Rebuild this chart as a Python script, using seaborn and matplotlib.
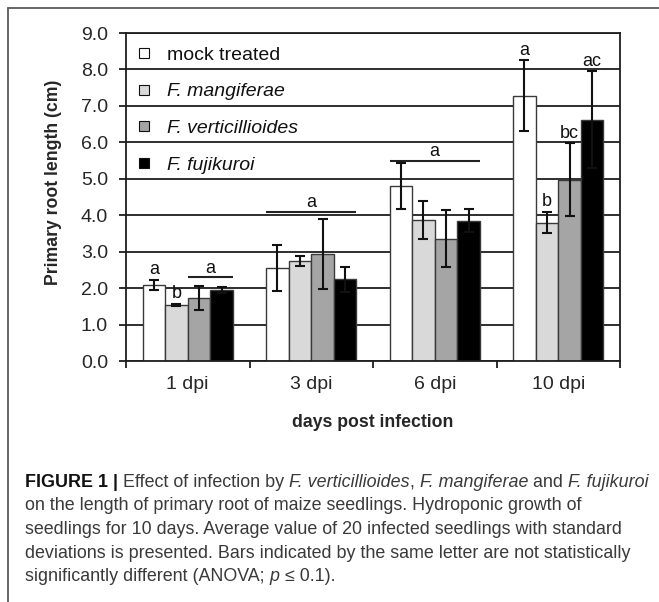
import matplotlib
matplotlib.use("Agg")
import matplotlib.pyplot as plt
from matplotlib.lines import Line2D
import pandas as pd
import seaborn as sns

# ---- data -------------------------------------------------------------
days = ["1 dpi", "3 dpi", "6 dpi", "10 dpi"]
treatments = ["mock treated", "F. mangiferae", "F. verticillioides", "F. fujikuroi"]

mock_mean = [2.09, 2.55, 4.80, 7.28]
mock_sd = [0.14, 0.63, 0.62, 0.98]
mang_mean = [1.54, 2.75, 3.87, 3.80]
mang_sd = [0.03, 0.14, 0.52, 0.30]
vert_mean = [1.72, 2.94, 3.36, 4.97]
vert_sd = [0.33, 0.96, 0.79, 1.00]
fuji_mean = [1.95, 2.24, 3.85, 6.62]
fuji_sd = [0.08, 0.35, 0.32, 1.33]

bar_colors = ["#ffffff", "#d9d9d9", "#a5a5a5", "#000000"]

# letters over single bars: (day, treatment, letter)
bar_letters = [
    ("1 dpi", "mock treated", "a"),
    ("1 dpi", "F. mangiferae", "b"),
    ("10 dpi", "mock treated", "a"),
    ("10 dpi", "F. mangiferae", "b"),
    ("10 dpi", "F. verticillioides", "bc"),
    ("10 dpi", "F. fujikuroi", "ac"),
]
# letters over a bracket of bars: (day, first treatment, last treatment, level, letter)
group_letters = [
    ("1 dpi", "F. verticillioides", "F. fujikuroi", 2.3, "a"),
    ("3 dpi", "mock treated", "F. fujikuroi", 4.1, "a"),
    ("6 dpi", "mock treated", "F. fujikuroi", 5.5, "a"),
]

y_ticks = [0, 1, 2, 3, 4, 5, 6, 7, 8, 9]
x_label = "days post infection"
y_label = "Primary root length (cm)"

caption_lines = [
    [("FIGURE 1 | ", "normal", "bold"), ("Effect of infection by ", "normal", "normal"),
     ("F. verticillioides", "italic", "normal"), (", ", "normal", "normal"),
     ("F. mangiferae", "italic", "normal"), (" and ", "normal", "normal"),
     ("F. fujikuroi", "italic", "normal")],
    [("on the length of primary root of maize seedlings. Hydroponic growth of", "normal", "normal")],
    [("seedlings for 10 days. Average value of 20 infected seedlings with standard", "normal", "normal")],
    [("deviations is presented. Bars indicated by the same letter are not statistically", "normal", "normal")],
    [("significantly different (ANOVA; ", "normal", "normal"), ("p", "italic", "normal"),
     (" \u2264 0.1).", "normal", "normal")],
]

# ---- long-form table ------------------------------------------------------
means = [mock_mean, mang_mean, vert_mean, fuji_mean]
sds = [mock_sd, mang_sd, vert_sd, fuji_sd]
rows = []
for t, m_list, s_list in zip(treatments, means, sds):
    for d, m, s in zip(days, m_list, s_list):
        rows.append({"day": d, "treatment": t, "mean": m, "sd": s})
df = pd.DataFrame(rows)

# ---- figure -----------------------------------------------------------------
W, H = 659, 602
sns.set_theme(style="white")
plt.rcParams["font.family"] = ["Liberation Sans", "DejaVu Sans"]
plt.rcParams["text.color"] = "#111111"

fig = plt.figure(figsize=(W / 100, H / 100), dpi=100)
fig.patch.set_facecolor("white")
ax = fig.add_axes([126 / W, 1 - 361 / H, (620 - 126) / W, (361 - 33) / H])
ax.set_facecolor("white")

sns.barplot(data=df, x="day", y="mean", hue="treatment", order=days,
            hue_order=treatments, palette=bar_colors, width=0.73,
            edgecolor="#3a3a3a", linewidth=1.0, errorbar=None,
            legend=False, zorder=2, ax=ax)

# bar geometry looked up per (day, treatment)
geom = {}
for t, cont in zip(treatments, ax.containers):
    for d, patch in zip(days, cont.patches):
        geom[(d, t)] = (patch.get_x(), patch.get_width(), patch.get_height())

# error bars
for _, r in df.iterrows():
    x0, w, h = geom[(r["day"], r["treatment"])]
    ax.errorbar(x0 + w / 2, r["mean"], yerr=r["sd"], fmt="none",
                ecolor="#111111", elinewidth=1.5, capsize=3.5, capthick=1.5,
                zorder=3)

sd_lookup = {(r["day"], r["treatment"]): r["mean"] + r["sd"] for _, r in df.iterrows()}

# single-bar letters
for d, t, letter in bar_letters:
    x0, w, _ = geom[(d, t)]
    ax.text(x0 + w / 2, sd_lookup[(d, t)] + 0.27, letter, ha="center",
            va="center", fontsize=13, color="#111111", zorder=4)

# bracket letters
for d, t0, t1, level, letter in group_letters:
    xa = geom[(d, t0)][0]
    xb = geom[(d, t1)][0] + geom[(d, t1)][1]
    ax.plot([xa, xb], [level, level], color="#222222", lw=1.5,
            solid_capstyle="butt", zorder=4)
    ax.text((xa + xb) / 2, level + 0.25, letter, ha="center", va="center",
            fontsize=13, color="#111111", zorder=4)

# axes styling
ax.set_ylim(0, 9)
ax.set_xlim(-0.5, len(days) - 0.5)
ax.set_yticks(y_ticks)
ax.set_yticklabels([f"{v:.1f}" for v in y_ticks])
ax.yaxis.grid(True, color="#1e1e1e", lw=1.3)
ax.xaxis.grid(False)
ax.set_axisbelow(True)
for s in ax.spines.values():
    s.set_visible(True)
    s.set_color("#1e1e1e")
    s.set_linewidth(1.3)

ax.tick_params(axis="y", which="major", direction="out", length=5, width=1.3,
               color="#1e1e1e", pad=8, labelsize=14, left=True)
ax.set_xticks(range(len(days)))
ax.set_xticklabels(days)
ax.set_xticks([i - 0.5 for i in range(len(days) + 1)], minor=True)
ax.tick_params(axis="x", which="major", length=0, pad=11, labelsize=14)
ax.tick_params(axis="x", which="minor", direction="out", length=5, width=1.3,
               color="#1e1e1e", bottom=True)

ax.set_xlabel(x_label, fontsize=12.7, fontweight="bold", va="top")
ax.xaxis.set_label_coords(0.5, -0.163)
ax.set_ylabel(y_label, fontsize=12.7, fontweight="bold")
ax.yaxis.set_label_coords(-0.13, 0.544)

# legend
handles = [Line2D([], [], marker="s", linestyle="none", markersize=6.5,
                  markerfacecolor=c, markeredgecolor="#111111",
                  markeredgewidth=0.8) for c in bar_colors]
leg = ax.legend(handles, treatments, loc="upper left",
                bbox_to_anchor=(0.024, 0.960), frameon=False, fontsize=14,
                handlelength=0.6, handletextpad=0.9, labelspacing=0.98,
                borderpad=0, borderaxespad=0)
for txt in leg.get_texts()[1:]:
    txt.set_fontstyle("italic")

# panel frame
fig.add_artist(Line2D([8 / W, 1], [1 - 8 / H, 1 - 8 / H], transform=fig.transFigure,
                      color="#5a5a5a", lw=1.3))
fig.add_artist(Line2D([8 / W, 8 / W], [1 - 8 / H, 0], transform=fig.transFigure,
                      color="#5a5a5a", lw=1.3))

# caption with mixed styles
renderer = fig.canvas.get_renderer()


def text_width(s, **props):
    a = fig.text(0, 0, "|" + s + "|", **props)
    b = fig.text(0, 0, "||", **props)
    wa = a.get_window_extent(renderer=renderer).width
    wb = b.get_window_extent(renderer=renderer).width
    a.remove()
    b.remove()
    return wa - wb


ref_line = caption_lines[3][0][0]
cap_size = 10 * 608 / text_width(ref_line, fontsize=10)

for i, line in enumerate(caption_lines):
    x = 25
    y = 487 + 23.5 * i
    for s, style, weight in line:
        color = "#111111" if weight == "bold" else "#3a3a3a"
        props = dict(fontsize=cap_size, fontstyle=style, fontweight=weight,
                     color=color)
        fig.text(x / W, 1 - y / H, s, ha="left", va="baseline", **props)
        x += text_width(s, **props)

fig.savefig("out.png", dpi=100, facecolor="white")
